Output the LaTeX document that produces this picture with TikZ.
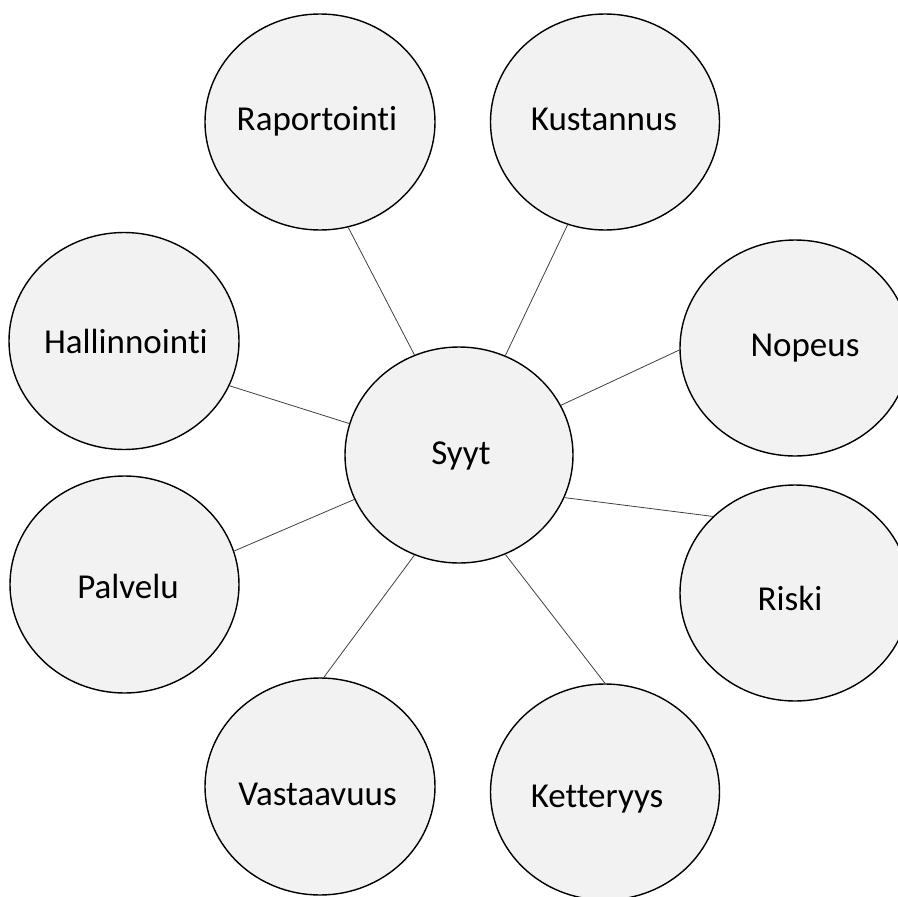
\documentclass[tikz,border=0pt]{standalone}
\usepackage{fontspec}
\setmainfont[Ligatures={NoCommon,NoContextual}]{Carlito}
\usetikzlibrary{shapes.geometric}
\definecolor{bubblefill}{HTML}{F2F2F2}
\definecolor{linkgray}{HTML}{404040}
\begin{document}
\begin{tikzpicture}[x=1pt,y=-1pt,
  bubble/.style={ellipse, draw=black, line width=1.4pt, fill=bubblefill, inner sep=0pt, minimum width=230pt, minimum height=216pt},
  word/.style={anchor=base, inner sep=0pt, font=\fontsize{35}{42}\selectfont},
  link/.style={draw=linkgray, line width=0.8pt}]
\useasboundingbox (0,0) rectangle (898,897);
% bubbles
\node[bubble] (syyt) at (459,455) [minimum width=228pt] {};
\node[bubble] (rap) at (320,122) {};
\node[bubble] (kus) at (605,122) [minimum width=229pt] {};
\node[bubble] (hal) at (124,341) [minimum height=217pt] {};
\node[bubble] (nop) at (795,348) {};
\node[bubble] (pal) at (124.5,584.5) [minimum width=229pt, minimum height=217pt] {};
\node[bubble] (ris) at (795,593) {};
\node[bubble] (vas) at (320,786.5) [minimum height=217pt] {};
\node[bubble] (ket) at (605,792) [minimum width=229pt] {};
% labels
\node[word] (tsyyt) at (461,464) {Syyt};
\node[word] (trap) at (317,130) {Raportointi};
\node[word] (tkus) at (604,130) {Kustannus};
\node[word] (thal) at (126,353) {Hallinnointi};
\node[word] (tnop) at (805,356) {Nopeus};
\node[word] (tpal) at (128,598) {Palvelu};
\node[word] (tris) at (790,610) {Riski};
\node[word] (tvas) at (317.5,805) {Vastaavuus};
\node[word] (tket) at (597,807) {Ketteryys};
% connectors
\draw[link] (rap.-75.7) -- (syyt.114.1);
\draw[link] (hal.-23.5) -- (syyt.164.2);
\draw[link] (kus.-110.6) -- (syyt.65.5);
\draw[link] (nop.181) -- (syyt.26.3);
\draw[link] (pal.17.6) -- (syyt.-157.2);
\draw[link] (vas.88.9) -- (syyt.-114.1);
\draw[link] (ris.137.2) -- (syyt.-22.8);
\draw[link] (ket.90) -- (syyt.-65.5);
\end{tikzpicture}
\end{document}
